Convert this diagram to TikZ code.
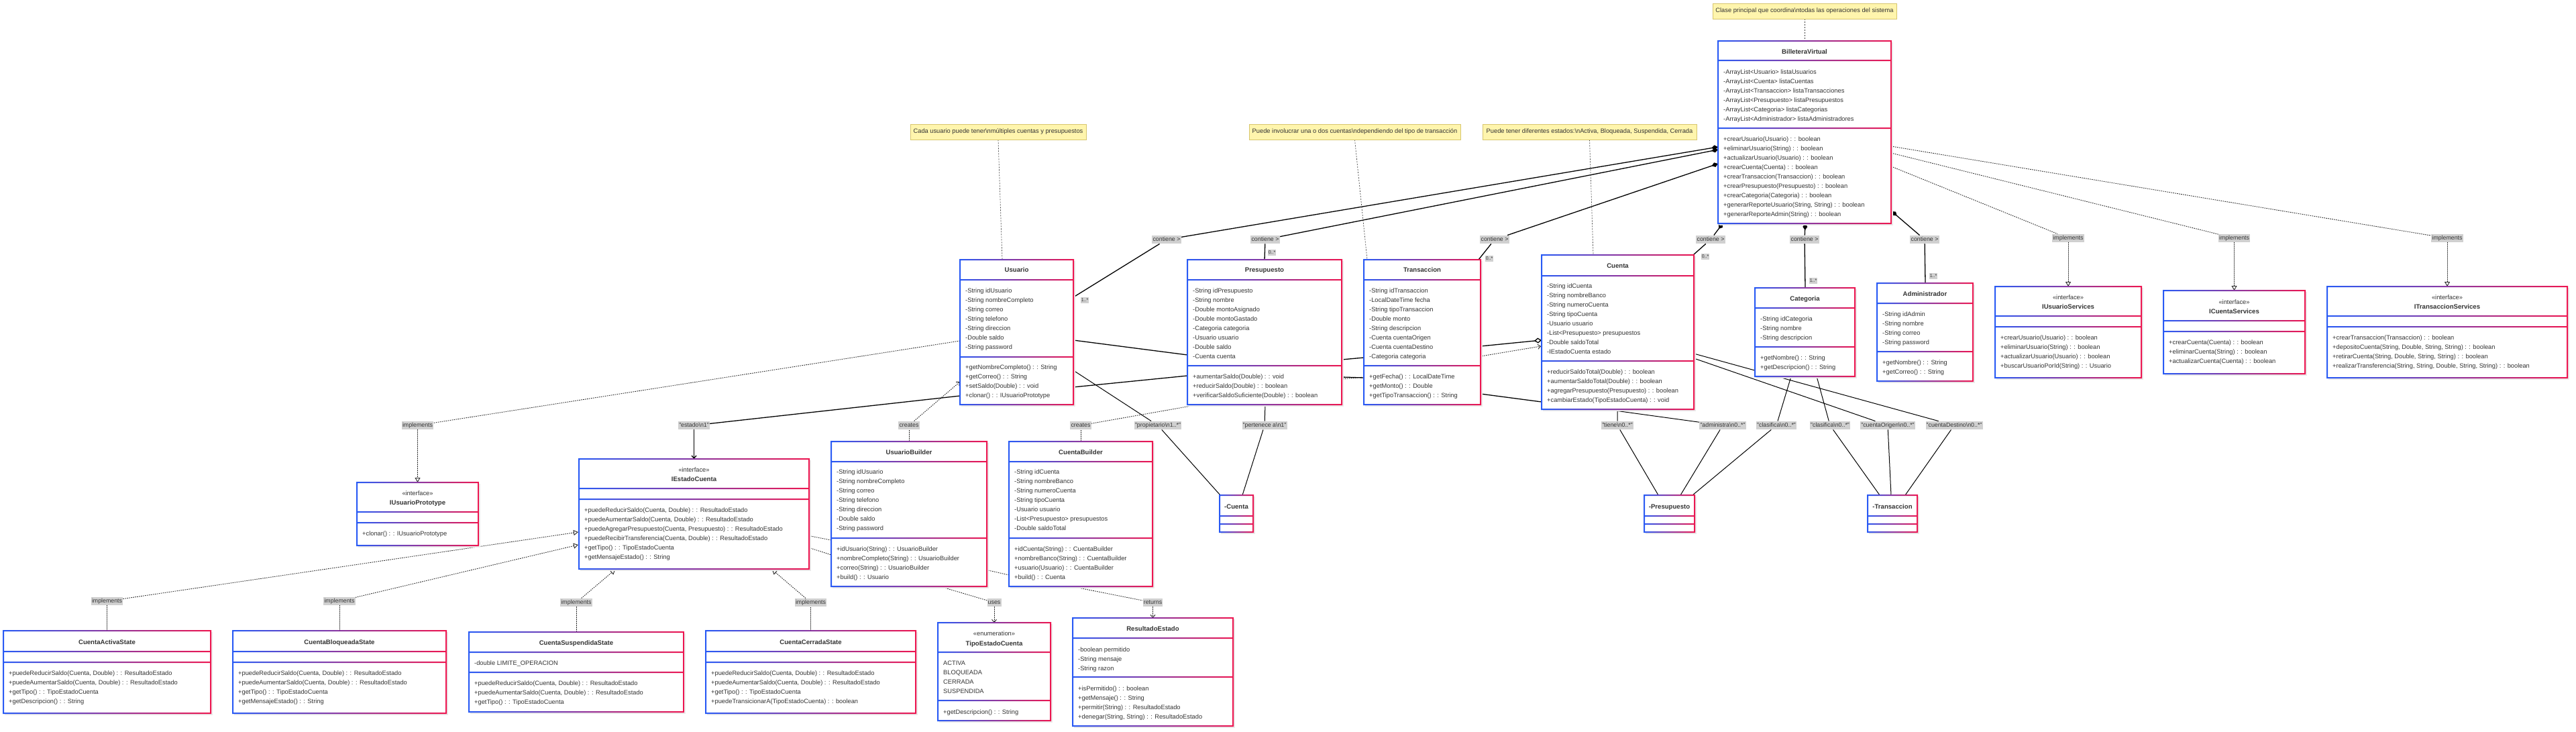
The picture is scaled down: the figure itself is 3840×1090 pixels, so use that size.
\documentclass[tikz,border=0pt]{standalone}
\usepackage{fontspec}
\setmainfont{Liberation Sans}
\usetikzlibrary{arrows.meta}
\definecolor{cblue}{RGB}{40,90,245}
\definecolor{cred}{RGB}{238,22,80}
\definecolor{tc}{RGB}{51,51,51}
\definecolor{notefill}{RGB}{255,245,173}
\definecolor{notedraw}{RGB}{215,198,110}
\definecolor{labfill}{RGB}{208,208,208}
\pgfdeclarelayer{bg}
\pgfdeclarelayer{edges}
\pgfsetlayers{bg,edges,main}
\tikzset{
  boxbg/.style={draw=none, fill=white, inner sep=0pt, outer sep=0pt, rectangle},
  txt/.style={font=\fontsize{9.3}{11}\selectfont, text=tc, inner sep=0pt, anchor=base west},
  ttl/.style={font=\fontsize{9.6}{11}\selectfont\bfseries, text=tc, inner sep=0pt, anchor=base},
  stereo/.style={font=\fontsize{9.3}{11}\selectfont, text=tc, inner sep=0pt, anchor=base},
  elab/.style={fill=labfill, text=tc, font=\fontsize{8.8}{10}\selectfont, inner xsep=1.2pt, inner ysep=0pt, text height=7pt, text depth=2.2pt, minimum height=12.5pt},
  mlab/.style={fill=labfill, text=tc, font=\fontsize{7}{8}\selectfont, inner xsep=1pt, inner ysep=0pt, text height=5.5pt, text depth=1.5pt, minimum height=9pt},
  notebox/.style={fill=notefill, draw=notedraw, line width=0.8pt, text=tc, font=\fontsize{9.3}{10}\selectfont, inner sep=0pt, rectangle},
  solidedge/.style={draw=black, line width=1.3pt},
  thinedge/.style={draw=black, line width=1pt},
  dotedge/.style={draw=black!85, line width=0.9pt, dash pattern=on 1.6pt off 1.4pt},
  noteedge/.style={draw=black!75, line width=0.7pt, dash pattern=on 2pt off 2pt},
  comptip/.style={-{Diamond[length=10pt,width=7pt]}},
  aggtip/.style={-{Diamond[open,length=11pt,width=8pt,fill=white]}},
  impltip/.style={-{Triangle[open,length=7pt,width=8pt,fill=white]}},
  deptip/.style={-{Straight Barb[length=4pt,width=7pt]}},
}
\newcommand\umlframe[7]{%
  \fill[black!8] (#2+2,#3+2) rectangle (#4+3,#5+3);
  \node[boxbg, minimum width={#4-#2}, minimum height={#5-#3}] (#1) at ({(#2+#4)/2},{(#3+#5)/2}) {};
  \shade[left color=cblue, right color=cred, even odd rule]
    (#2-1,#3-1) rectangle (#4+1,#5+1)
    (#2+1,#3+1) rectangle (#4-1,#5-1)
    (#2+1,#6-1) rectangle (#4-1,#6+1)
    (#2+1,#7-1) rectangle (#4-1,#7+1);
}
\newcommand\ulines[4]{\foreach \t [count=\i from 0] in {#4} {\node[txt] (#1-\i) at (#2,#3+14*\i+3.3) {\t};}}
\newcommand\ttlat[4]{\node[ttl] (#1) at (#2,#3+3.5) {#4};}
\newcommand\stat[4]{\node[stereo] (#1) at (#2,#3+3.3) {#4};}

\begin{document}
\begin{tikzpicture}[x=1pt,y=-1pt]
\begin{pgfonlayer}{bg}
\fill[white] (0,0) rectangle (3840,1090);
\end{pgfonlayer}
\useasboundingbox (0,0) rectangle (3840,1090);

% ---------- BilleteraVirtual
\umlframe{billetera}{2561}{61}{2819}{333}{90}{191}
\ttlat{billetera-t}{2690}{77}{BilleteraVirtual}
\ulines{billetera-a}{2569}{107}{{-ArrayList<Usuario> listaUsuarios},{-ArrayList<Cuenta> listaCuentas},{-ArrayList<Transaccion> listaTransacciones},{-ArrayList<Presupuesto> listaPresupuestos},{-ArrayList<Categoria> listaCategorias},{-ArrayList<Administrador> listaAdministradores}}
\ulines{billetera-m}{2569}{207}{{+crearUsuario(Usuario) : : boolean},{+eliminarUsuario(String) : : boolean},{+actualizarUsuario(Usuario) : : boolean},{+crearCuenta(Cuenta) : : boolean},{+crearTransaccion(Transaccion) : : boolean},{+crearPresupuesto(Presupuesto) : : boolean},{+crearCategoria(Categoria) : : boolean},{+generarReporteUsuario(String, String) : : boolean},{+generarReporteAdmin(String) : : boolean}}

% ---------- Usuario
\umlframe{usuario}{1431}{387}{1600}{603}{417}{532}
\ttlat{usuario-t}{1515.5}{402}{Usuario}
\ulines{usuario-a}{1439}{433}{{-String idUsuario},{-String nombreCompleto},{-String correo},{-String telefono},{-String direccion},{-Double saldo},{-String password}}
\ulines{usuario-m}{1439}{547}{{+getNombreCompleto() : : String},{+getCorreo() : : String},{+setSaldo(Double) : : void},{+clonar() : : IUsuarioPrototype}}

% ---------- Presupuesto
\umlframe{presupuesto}{1770}{387}{2000}{603}{417}{545}
\ttlat{presupuesto-t}{1885}{402}{Presupuesto}
\ulines{presupuesto-a}{1778}{433}{{-String idPresupuesto},{-String nombre},{-Double montoAsignado},{-Double montoGastado},{-Categoria categoria},{-Usuario usuario},{-Double saldo},{-Cuenta cuenta}}
\ulines{presupuesto-m}{1778}{561}{{+aumentarSaldo(Double) : : void},{+reducirSaldo(Double) : : boolean},{+verificarSaldoSuficiente(Double) : : boolean}}

% ---------- Transaccion
\umlframe{transaccion}{2033}{387}{2207}{603}{417}{545}
\ttlat{transaccion-t}{2120}{402}{Transaccion}
\ulines{transaccion-a}{2041}{433}{{-String idTransaccion},{-LocalDateTime fecha},{-String tipoTransaccion},{-Double monto},{-String descripcion},{-Cuenta cuentaOrigen},{-Cuenta cuentaDestino},{-Categoria categoria}}
\ulines{transaccion-m}{2041}{561}{{+getFecha() : : LocalDateTime},{+getMonto() : : Double},{+getTipoTransaccion() : : String}}

% ---------- Cuenta
\umlframe{cuenta}{2298}{380}{2525}{610}{411}{538}
\ttlat{cuenta-t}{2411.5}{396}{Cuenta}
\ulines{cuenta-a}{2306}{426}{{-String idCuenta},{-String nombreBanco},{-String numeroCuenta},{-String tipoCuenta},{-Usuario usuario},{-List<Presupuesto> presupuestos},{-Double saldoTotal},{-IEstadoCuenta estado}}
\ulines{cuenta-m}{2306}{554}{{+reducirSaldoTotal(Double) : : boolean},{+aumentarSaldoTotal(Double) : : boolean},{+agregarPresupuesto(Presupuesto) : : boolean},{+cambiarEstado(TipoEstadoCuenta) : : void}}

% ---------- Categoria
\umlframe{categoria}{2616}{429}{2765}{561}{459}{517}
\ttlat{categoria-t}{2690.5}{445}{Categoria}
\ulines{categoria-a}{2624}{475}{{-String idCategoria},{-String nombre},{-String descripcion}}
\ulines{categoria-m}{2624}{533}{{+getNombre() : : String},{+getDescripcion() : : String}}

% ---------- Administrador
\umlframe{admin}{2798}{422}{2941}{568}{452}{524}
\ttlat{admin-t}{2869.5}{438}{Administrador}
\ulines{admin-a}{2806}{468}{{-String idAdmin},{-String nombre},{-String correo},{-String password}}
\ulines{admin-m}{2806}{540}{{+getNombre() : : String},{+getCorreo() : : String}}

% ---------- Interfaces right
\umlframe{iusserv}{2974}{427}{3192}{563}{471}{487}
\stat{iusserv-s}{3083}{443}{«interface»}
\ttlat{iusserv-t}{3083}{457}{IUsuarioServices}
\ulines{iusserv-m}{2982}{503}{{+crearUsuario(Usuario) : : boolean},{+eliminarUsuario(String) : : boolean},{+actualizarUsuario(Usuario) : : boolean},{+buscarUsuarioPorId(String) : : Usuario}}

\umlframe{icuenta}{3225}{433}{3436}{557}{478}{494}
\stat{icuenta-s}{3330.5}{450}{«interface»}
\ttlat{icuenta-t}{3330.5}{464}{ICuentaServices}
\ulines{icuenta-m}{3233}{510}{{+crearCuenta(Cuenta) : : boolean},{+eliminarCuenta(String) : : boolean},{+actualizarCuenta(Cuenta) : : boolean}}

\umlframe{itrans}{3469}{427}{3827}{563}{471}{487}
\stat{itrans-s}{3648}{443}{«interface»}
\ttlat{itrans-t}{3648}{457}{ITransaccionServices}
\ulines{itrans-m}{3477}{503}{{+crearTransaccion(Transaccion) : : boolean},{+depositoCuenta(String, Double, String, String) : : boolean},{+retirarCuenta(String, Double, String, String) : : boolean},{+realizarTransferencia(String, String, Double, String, String) : : boolean}}

% ---------- IUsuarioPrototype
\umlframe{iproto}{532}{719}{713}{813}{763}{779}
\stat{iproto-s}{622.5}{735}{«interface»}
\ttlat{iproto-t}{622.5}{749}{IUsuarioPrototype}
\ulines{iproto-m}{540}{795}{{+clonar() : : IUsuarioPrototype}}

% ---------- IEstadoCuenta
\umlframe{iestado}{863}{684}{1206}{848}{728}{744}
\stat{iestado-s}{1034.5}{700}{«interface»}
\ttlat{iestado-t}{1034.5}{714}{IEstadoCuenta}
\ulines{iestado-m}{871}{760}{{+puedeReducirSaldo(Cuenta, Double) : : ResultadoEstado},{+puedeAumentarSaldo(Cuenta, Double) : : ResultadoEstado},{+puedeAgregarPresupuesto(Cuenta, Presupuesto) : : ResultadoEstado},{+puedeRecibirTransferencia(Cuenta, Double) : : ResultadoEstado},{+getTipo() : : TipoEstadoCuenta},{+getMensajeEstado() : : String}}

% ---------- Builders
\umlframe{ubuilder}{1239}{658}{1471}{874}{688}{802}
\ttlat{ubuilder-t}{1355}{674}{UsuarioBuilder}
\ulines{ubuilder-a}{1247}{703}{{-String idUsuario},{-String nombreCompleto},{-String correo},{-String telefono},{-String direccion},{-Double saldo},{-String password}}
\ulines{ubuilder-m}{1247}{818}{{+idUsuario(String) : : UsuarioBuilder},{+nombreCompleto(String) : : UsuarioBuilder},{+correo(String) : : UsuarioBuilder},{+build() : : Usuario}}

\umlframe{cbuilder}{1504}{658}{1718}{874}{688}{802}
\ttlat{cbuilder-t}{1611}{674}{CuentaBuilder}
\ulines{cbuilder-a}{1512}{703}{{-String idCuenta},{-String nombreBanco},{-String numeroCuenta},{-String tipoCuenta},{-Usuario usuario},{-List<Presupuesto> presupuestos},{-Double saldoTotal}}
\ulines{cbuilder-m}{1512}{818}{{+idCuenta(String) : : CuentaBuilder},{+nombreBanco(String) : : CuentaBuilder},{+usuario(Usuario) : : CuentaBuilder},{+build() : : Cuenta}}

% ---------- States
\umlframe{activa}{5}{940}{314}{1063}{971}{987}
\ttlat{activa-t}{159.5}{957}{CuentaActivaState}
\ulines{activa-m}{13}{1003}{{+puedeReducirSaldo(Cuenta, Double) : : ResultadoEstado},{+puedeAumentarSaldo(Cuenta, Double) : : ResultadoEstado},{+getTipo() : : TipoEstadoCuenta},{+getDescripcion() : : String}}

\umlframe{bloq}{347}{940}{665}{1063}{971}{987}
\ttlat{bloq-t}{506}{957}{CuentaBloqueadaState}
\ulines{bloq-m}{355}{1003}{{+puedeReducirSaldo(Cuenta, Double) : : ResultadoEstado},{+puedeAumentarSaldo(Cuenta, Double) : : ResultadoEstado},{+getTipo() : : TipoEstadoCuenta},{+getMensajeEstado() : : String}}

\umlframe{susp}{699}{942}{1019}{1061}{972}{1002}
\ttlat{susp-t}{859}{958}{CuentaSuspendidaState}
\ulines{susp-a}{707}{988}{{-double LIMITE\_OPERACION}}
\ulines{susp-m}{707}{1018}{{+puedeReducirSaldo(Cuenta, Double) : : ResultadoEstado},{+puedeAumentarSaldo(Cuenta, Double) : : ResultadoEstado},{+getTipo() : : TipoEstadoCuenta}}

\umlframe{cerr}{1052}{940}{1365}{1063}{971}{987}
\ttlat{cerr-t}{1208.5}{957}{CuentaCerradaState}
\ulines{cerr-m}{1060}{1003}{{+puedeReducirSaldo(Cuenta, Double) : : ResultadoEstado},{+puedeAumentarSaldo(Cuenta, Double) : : ResultadoEstado},{+getTipo() : : TipoEstadoCuenta},{+puedeTransicionarA(TipoEstadoCuenta) : : boolean}}

% ---------- TipoEstadoCuenta
\umlframe{tipo}{1398}{928}{1566}{1074}{972}{1044}
\stat{tipo-s}{1482}{944}{«enumeration»}
\ttlat{tipo-t}{1482}{959}{TipoEstadoCuenta}
\ulines{tipo-a}{1406}{988}{{ACTIVA},{BLOQUEADA},{CERRADA},{SUSPENDIDA}}
\ulines{tipo-m}{1406}{1061}{{+getDescripcion() : : String}}

% ---------- ResultadoEstado
\umlframe{resultado}{1599}{921}{1838}{1082}{951}{1009}
\ttlat{resultado-t}{1718.5}{937}{ResultadoEstado}
\ulines{resultado-a}{1607}{968}{{-boolean permitido},{-String mensaje},{-String razon}}
\ulines{resultado-m}{1607}{1026}{{+isPermitido() : : boolean},{+getMensaje() : : String},{+permitir(String) : : ResultadoEstado},{+denegar(String, String) : : ResultadoEstado}}

% ---------- small boxes
\umlframe{mcuenta}{1818}{738}{1868}{793}{769}{781}
\ttlat{mcuenta-t}{1843}{755}{-Cuenta}
\umlframe{mpresu}{2451}{738}{2526}{793}{769}{781}
\ttlat{mpresu-t}{2488.5}{755}{-Presupuesto}
\umlframe{mtrans}{2784}{738}{2858}{793}{769}{781}
\ttlat{mtrans-t}{2821}{755}{-Transaccion}

% ---------- Notes
\node[notebox, minimum width=274pt, minimum height=23pt] (note0) at (2690,16.5) {Clase principal que coordina\textbackslash ntodas las operaciones del sistema};
\node[notebox, minimum width=262pt, minimum height=23pt] (note1) at (1488,196.5) {Cada usuario puede tener\textbackslash nmúltiples cuentas y presupuestos};
\node[notebox, minimum width=315pt, minimum height=23pt] (note2) at (2019.5,196.5) {Puede involucrar una o dos cuentas\textbackslash ndependiendo del tipo de transacción};
\node[notebox, minimum width=319pt, minimum height=23pt] (note3) at (2369.5,196.5) {Puede tener diferentes estados:\textbackslash nActiva, Bloqueada, Suspendida, Cerrada};

% ---------- Edge labels
\node[elab] (lc1) at (1739,357) {contiene >};
\node[elab] (lc2) at (1886,357) {contiene >};
\node[elab] (lc3) at (2228,357) {contiene >};
\node[elab] (lc4) at (2550,357) {contiene >};
\node[elab] (lc5) at (2690,357) {contiene >};
\node[elab] (lc6) at (2869,357) {contiene >};
\node[mlab] (m1) at (1617,447) {1..*};
\node[mlab] (m2) at (1896,376) {0..*};
\node[mlab] (m3) at (2220,385) {0..*};
\node[mlab] (m4) at (2542,382) {0..*};
\node[mlab] (m5) at (2703,418) {1..*};
\node[mlab] (m6) at (2882,411) {1..*};
\node[elab] (li1) at (3083,355) {implements};
\node[elab] (li2) at (3330.5,355) {implements};
\node[elab] (li3) at (3648,355) {implements};
\node[elab] (li4) at (622.5,634) {implements};
\node[elab] (li5) at (159.5,896) {implements};
\node[elab] (li6) at (506,896) {implements};
\node[elab] (li7) at (859,898) {implements};
\node[elab] (li8) at (1208.5,898) {implements};
\node[elab] (lcr1) at (1355,634) {creates};
\node[elab] (lcr2) at (1611,634) {creates};
\node[elab] (lest) at (1034.5,634) {"estado\textbackslash n1"};
\node[elab] (lprop) at (1726,634) {"propietario\textbackslash n1..*"};
\node[elab] (lpert) at (1885,634) {"pertenece a\textbackslash n1"};
\node[elab] (ltiene) at (2411,634) {"tiene\textbackslash n0..*"};
\node[elab] (ladm) at (2568,634) {"administra\textbackslash n0..*"};
\node[elab] (lcl1) at (2648,634) {"clasifica\textbackslash n0..*"};
\node[elab] (lcl2) at (2728,634) {"clasifica\textbackslash n0..*"};
\node[elab] (lco) at (2814,634) {"cuentaOrigen\textbackslash n0..*"};
\node[elab] (lcd) at (2913,634) {"cuentaDestino\textbackslash n0..*"};
\node[elab] (luses) at (1482,898) {uses};
\node[elab] (lret) at (1718.5,898) {returns};

% ---------- connector end points
\coordinate (cU) at (1600,443);  \coordinate (dU) at (2561,219);
\coordinate (cP) at (1885,387);  \coordinate (dP) at (2561,223);
\coordinate (cT) at (2204,387);  \coordinate (dT) at (2561,244);
\coordinate (cC) at (2524,380);  \coordinate (dC) at (2568,333);
\coordinate (cK) at (2691,429);  \coordinate (dK) at (2691,333);
\coordinate (cA) at (2870,422);  \coordinate (dA) at (2820,315);
\coordinate (bI1) at (2819,248); \coordinate (bI2) at (2819,228); \coordinate (bI3) at (2819,218);
\coordinate (uI) at (1431,508);
\coordinate (eI1) at (862,793); \coordinate (eI2) at (862,812);
\coordinate (eI3) at (917,849); \coordinate (eI4) at (1151,849);
\coordinate (uCr) at (1431,569);
\coordinate (cCr) at (2297,516);
\coordinate (uAg) at (1600,507); \coordinate (cAg) at (2298,507);
\coordinate (cEs) at (2298,599);
\coordinate (uPr) at (1600,552); \coordinate (mcPr) at (1819,738);
\coordinate (pPe) at (1886,603); \coordinate (mcPe) at (1852,738);
\coordinate (cTi) at (2411,610); \coordinate (mpTi) at (2472,738);
\coordinate (cAd) at (2393,610); \coordinate (mpAd) at (2505,738);
\coordinate (kCl1) at (2670,561); \coordinate (mpCl) at (2523,738);
\coordinate (kCl2) at (2708,561); \coordinate (mtCl) at (2802,738);
\coordinate (cCo) at (2525,534); \coordinate (mtCo) at (2819,738);
\coordinate (cCd) at (2525,527); \coordinate (mtCd) at (2840,738);
\coordinate (eUs) at (1208,817); \coordinate (eRe) at (1208,799);
\coordinate (n1e) at (1494,387); \coordinate (n2e) at (2038,387); \coordinate (n3e) at (2375,380);

\begin{pgfonlayer}{edges}
% compositions
\draw[solidedge] (cU) -- (lc1); \draw[solidedge,comptip] (lc1) -- (dU);
\draw[solidedge] (cP) -- (lc2); \draw[solidedge,comptip] (lc2) -- (dP);
\draw[solidedge] (cT) -- (lc3); \draw[solidedge,comptip] (lc3) -- (dT);
\draw[solidedge] (cC) -- (lc4); \draw[solidedge,comptip] (lc4) -- (dC);
\draw[solidedge] (cK) -- (lc5); \draw[solidedge,comptip] (lc5) -- (dK);
\draw[solidedge] (cA) -- (lc6); \draw[solidedge,comptip] (lc6) -- (dA);
% implements from BilleteraVirtual
\draw[dotedge] (bI1) -- (li1); \draw[dotedge,impltip] (li1) -- (li1 |- iusserv.north);
\draw[dotedge] (bI2) -- (li2); \draw[dotedge,impltip] (li2) -- (li2 |- icuenta.north);
\draw[dotedge] (bI3) -- (li3); \draw[dotedge,impltip] (li3) -- (li3 |- itrans.north);
% Usuario implements IUsuarioPrototype
\draw[dotedge] (uI) -- (li4); \draw[dotedge,impltip] (li4) -- (iproto.north);
% states implement IEstadoCuenta
\draw[dotedge] (activa.north) -- (li5); \draw[dotedge,impltip] (li5) -- (eI1);
\draw[dotedge] (bloq.north) -- (li6); \draw[dotedge,impltip] (li6) -- (eI2);
\draw[dotedge] (susp.north) -- (li7); \draw[dotedge,impltip] (li7) -- (eI3);
\draw[dotedge] (cerr.north) -- (li8); \draw[dotedge,impltip] (li8) -- (eI4);
% creates
\draw[dotedge] (ubuilder.north) -- (lcr1); \draw[dotedge,deptip] (lcr1) -- (uCr);
\draw[dotedge] (cbuilder.north) -- (lcr2);
\draw[dotedge,deptip] (lcr2) -- (1787,603) -- (2000,565) -- (2033,562) -- (2207,531) -- (cCr);
% aggregation Cuenta o-- Usuario
\draw[solidedge,aggtip] (uAg) -- (1770,529) -- (2000,536) -- (2033,533) -- (2207,516) -- (cAg);
% estado
\draw[solidedge] (cEs) -- (2207,587) -- (2033,563) -- (2000,562) -- (1770,560) -- (1600,577) -- (1431,590) -- (lest);
\draw[solidedge,deptip] (lest) -- (lest |- iestado.north);
% associations to small boxes
\draw[thinedge] (uPr) -- (lprop) -- (mcPr);
\draw[thinedge] (pPe) -- (lpert) -- (mcPe);
\draw[thinedge] (cTi) -- (ltiene) -- (mpTi);
\draw[thinedge] (cAd) -- (ladm) -- (mpAd);
\draw[thinedge] (kCl1) -- (lcl1) -- (mpCl);
\draw[thinedge] (kCl2) -- (lcl2) -- (mtCl);
\draw[thinedge] (cCo) -- (lco) -- (mtCo);
\draw[thinedge] (cCd) -- (lcd) -- (mtCd);
% uses / returns
\draw[dotedge] (eUs) -- (1239,827) -- (1401,874) -- (luses);
\draw[dotedge,deptip] (luses) -- (luses |- tipo.north);
\draw[dotedge] (eRe) -- (1473,850) -- (1504,857) -- (1597,874) -- (lret);
\draw[dotedge,deptip] (lret) -- (lret |- resultado.north);
% notes
\draw[noteedge] (note0.south) -- (note0.south |- billetera.north);
\draw[noteedge] (note1.south) -- (n1e);
\draw[noteedge] (note2.south) -- (n2e);
\draw[noteedge] (note3.south) -- (n3e);
\end{pgfonlayer}
\end{tikzpicture}
\end{document}
